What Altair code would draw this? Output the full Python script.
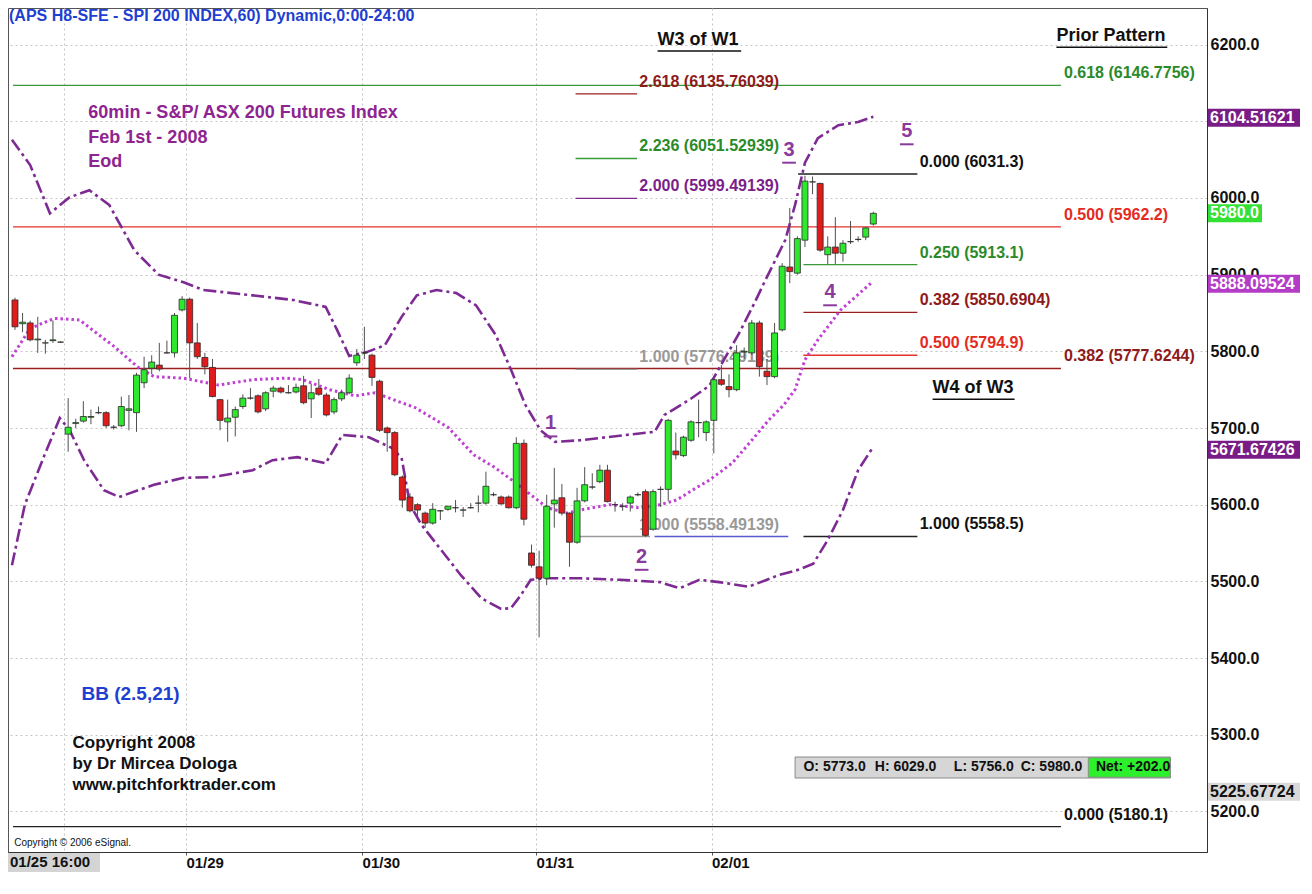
import altair as alt
import numpy as np
import pandas as pd

# ---------------- candles (hourly OHLC) ----------------
c_open = [5867, 5836, 5837, 5815, 5811, 5814, 5812,
          5692, 5706, 5709, 5714, 5720, 5720, 5701, 5703, 5723, 5720, 5759, 5778, 5782, 5798, 5798, 5854, 5868, 5811, 5792, 5779, 5737,
          5708, 5714, 5728, 5739, 5742, 5725, 5748, 5752, 5746, 5747, 5755, 5738, 5752, 5743, 5721, 5738, 5746, 5785, 5798, 5795, 5761, 5700, 5694, 5636,
          5610, 5600, 5589, 5576, 5592, 5594, 5596, 5593, 5596, 5602, 5602, 5613, 5610, 5610, 5596, 5680, 5537, 5519, 5504, 5601, 5609, 5589, 5551,
          5605, 5623, 5630, 5645, 5600, 5598, 5602, 5613, 5617, 5568, 5620, 5620, 5670, 5664, 5684, 5707, 5694, 5710,
          5763, 5754, 5750, 5799, 5798, 5837, 5774, 5767, 5828, 5910, 5902, 5945, 6021, 6019, 5926, 5936, 5928, 5943, 5946, 5949, 5966]
c_high = [5870, 5850, 5840, 5845, 5815, 5840, 5813,
          5739, 5712, 5735, 5724, 5728, 5722, 5704, 5741, 5743, 5772, 5793, 5795, 5811, 5814, 5850, 5872, 5870, 5837, 5798, 5790, 5738,
          5737, 5728, 5744, 5752, 5744, 5748, 5755, 5754, 5756, 5758, 5768, 5758, 5764, 5746, 5740, 5750, 5770, 5803, 5832, 5797, 5763, 5702, 5696, 5638,
          5615, 5602, 5591, 5602, 5593, 5598, 5606, 5597, 5602, 5612, 5643, 5616, 5612, 5612, 5688, 5685, 5548, 5540, 5613, 5648, 5627, 5590, 5622,
          5649, 5641, 5652, 5652, 5604, 5602, 5612, 5616, 5620, 5620, 5624, 5712, 5694, 5690, 5710, 5737, 5710, 5766,
          5782, 5770, 5808, 5805, 5841, 5840, 5790, 5837, 5915, 5987, 5950, 6029, 6028, 6020, 5950, 5975, 5945, 5970, 5950, 5962, 5982]
c_low = [5828, 5825, 5813, 5798, 5797, 5811, 5811,
         5669, 5700, 5707, 5705, 5718, 5700, 5698, 5701, 5697, 5695, 5752, 5770, 5774, 5797, 5792, 5852, 5765, 5790, 5770, 5740, 5697,
         5682, 5689, 5725, 5737, 5719, 5722, 5740, 5745, 5745, 5745, 5731, 5713, 5742, 5715, 5718, 5735, 5744, 5781, 5790, 5755, 5695, 5669, 5637, 5596,
         5590, 5580, 5570, 5574, 5580, 5592, 5590, 5584, 5595, 5590, 5600, 5611, 5600, 5595, 5594, 5573, 5518, 5427, 5495, 5570, 5586, 5519, 5549,
         5603, 5620, 5628, 5603, 5591, 5592, 5591, 5611, 5558, 5566, 5597, 5605, 5659, 5662, 5682, 5688, 5683, 5667,
         5755, 5740, 5748, 5790, 5795, 5767, 5756, 5765, 5826, 5889, 5900, 5936, 6005, 5930, 5914, 5914, 5917, 5940, 5943, 5945, 5964]
c_close = [5832, 5838, 5815, 5816, 5811, 5815, 5812,
           5701, 5707, 5715, 5715, 5720, 5703, 5701, 5728, 5725, 5769, 5776, 5786, 5777, 5798, 5847, 5868, 5811, 5793, 5780, 5741, 5710,
           5713, 5724, 5739, 5739, 5721, 5746, 5752, 5747, 5746, 5753, 5733, 5746, 5744, 5717, 5737, 5746, 5765, 5795, 5798, 5766, 5697, 5694, 5639, 5606,
           5592, 5593, 5576, 5594, 5592, 5598, 5596, 5593, 5596, 5602, 5624, 5613, 5601, 5596, 5680, 5581, 5521, 5504, 5598, 5606, 5589, 5551, 5605,
           5626, 5623, 5645, 5604, 5600, 5598, 5610, 5613, 5560, 5617, 5620, 5710, 5665, 5688, 5708, 5707, 5708, 5763,
           5757, 5750, 5798, 5800, 5837, 5780, 5767, 5824, 5911, 5904, 5947, 6022, 6021, 5932, 5936, 5928, 5941, 5943, 5946, 5961, 5980]

# ---------------- Bollinger bands (bar index, price) ----------------
up_i = [-0.4, 2.0, 4.6, 7.2, 9.8, 12.4, 15.7, 18.9, 22.2, 24.8, 31.3, 36.6, 40.9, 42.4, 44.0, 46.3, 48.7, 50.9, 52.9, 55.5,
        58.1, 60.7, 63.3, 65.3, 67.2, 69.2, 71.1, 74.4, 79.6, 84.2, 85.5, 88.8, 91.4, 92.7, 95.3, 97.3, 98.8, 101.4, 102.7,
        104.0, 105.7, 108.4, 111.0, 113.0]
up_p = [6076, 6043, 5980, 6001, 6010, 5991, 5932, 5900, 5890, 5880, 5873, 5867, 5858, 5828, 5794, 5799, 5808, 5845, 5873, 5880,
        5876, 5860, 5821, 5776, 5730, 5697, 5682, 5684, 5690, 5695, 5717, 5737, 5755, 5778, 5823, 5862, 5893, 5945, 5991,
        6046, 6078, 6095, 6099, 6106]
lo_i = [-0.4, 1.3, 3.9, 5.9, 7.2, 9.1, 11.7, 13.7, 18.3, 22.2, 26.1, 31.3, 33.9, 37.2, 40.9, 43.1, 46.6, 49.6, 50.9, 52.0,
        53.5, 56.1, 58.7, 61.4, 64.0, 65.3, 66.6, 67.9, 69.8, 74.4, 79.6, 84.9, 87.5, 90.1, 92.7, 96.6, 100.5, 103.1, 105.1,
        107.0, 109.0, 111.0, 112.9]
lo_p = [5521, 5600, 5665, 5713, 5697, 5658, 5619, 5610, 5626, 5635, 5636, 5645, 5658, 5662, 5654, 5691, 5688, 5674, 5661, 5600,
        5574, 5541, 5508, 5478, 5464, 5465, 5482, 5502, 5504, 5504, 5502, 5499, 5491, 5502, 5499, 5493, 5508, 5515, 5523,
        5554, 5593, 5645, 5674]
mid_i = [-0.4, 2.0, 5.2, 8.5, 11.1, 13.1, 16.1, 18.3, 22.2, 26.8, 31.3, 35.6, 37.9, 41.4, 44.8, 47.4, 50.9, 52.6, 57.0, 60.4,
         63.1, 65.7, 67.9, 70.1, 72.7, 74.4, 78.3, 82.2, 84.9, 87.1, 89.2, 91.4, 94.4, 97.0, 99.2, 101.2, 102.7, 104.0, 105.7,
         108.7, 112.7]
mid_p = [5793, 5830, 5843, 5841, 5821, 5806, 5780, 5767, 5765, 5756, 5763, 5765, 5763, 5750, 5742, 5746, 5733, 5727, 5701, 5665,
         5649, 5630, 5613, 5596, 5589, 5593, 5600, 5596, 5600, 5606, 5619, 5632, 5654, 5684, 5710, 5730, 5750, 5789, 5815,
         5854, 5889]

# ---------------- Fibonacci levels ----------------
X_MIN, X_MAX = -0.26, 156.27
Y_MIN, Y_MAX = 5147.0, 6247.8
GREEN, RED, DRED, PURP, BLACK, GRAY, BLUE = "#3a9a3a", "#e5322a", "#9a1e1e", "#7d2a8e", "#222222", "#9a9a9a", "#5a5ad0"

lvl_price = [6146.7756, 6135.76039, 6051.52939, 5999.49139, 6031.3, 5962.2, 5913.1, 5850.6904, 5794.9,
             5777.6244, 5776.49139, 5558.49139, 5558.49139, 5558.5, 5180.1]
lvl_start = [X_MIN, 73.8, 73.8, 73.8, 103.1, X_MIN, 103.8, 103.8, 103.8, X_MIN, 73.8, 73.8, 84.2, 103.8, X_MIN]
lvl_end = [137.7, 81.9, 81.9, 81.9, 118.8, 137.7, 118.8, 118.8, 118.8, 137.7, 81.9, 83.6, 101.8, 118.8, 137.7]
lvl_color = [GREEN, DRED, GREEN, PURP, BLACK, RED, GREEN, DRED, RED, DRED, GRAY, GRAY, BLUE, BLACK, BLACK]

lab_text = ["0.618 (6146.7756)", "2.618 (6135.76039)", "2.236 (6051.52939)", "2.000 (5999.49139)",
            "0.000 (6031.3)", "0.500 (5962.2)", "0.250 (5913.1)", "0.382 (5850.6904)", "0.500 (5794.9)",
            "0.382 (5777.6244)", "1.000 (5776.49139)", "1.000 (5558.49139)", "1.000 (5558.5)", "0.000 (5180.1)"]
lab_i = [138.1, 82.2, 82.2, 82.2, 119.1, 138.1, 119.1, 119.1, 119.1, 138.1, 82.2, 82.2, 119.1, 138.1]
lab_price = [6146.7756, 6135.76039, 6051.52939, 5999.49139, 6031.3, 5962.2, 5913.1, 5850.6904, 5794.9,
             5777.6244, 5776.49139, 5558.49139, 5558.5, 5180.1]
lab_color = ["#2a8a2a", "#8e1a1a", "#2a8a2a", "#7a1f8a", "#111111", "#e52a22", "#2a8a2a", "#8e1a1a", "#e52a22",
             "#8e1a1a", "#999999", "#999999", "#111111", "#111111"]

# ---------------- annotations ----------------
wave_text = ["1", "2", "3", "4", "5"]
wave_i = [70.5, 82.5, 101.9, 107.3, 117.4]
wave_p = [5706, 5532, 6063, 5877, 6087]

hdr_text = ["W3 of W1", "Prior Pattern", "W4 of W3"]
hdr_i = [84.6, 137.1, 120.8]
hdr_p = [6206, 6211, 5752]
hdr_w = [11.0, 14.6, 10.8]

info_text = ["60min - S&P/ ASX 200 Futures Index", "Feb 1st - 2008", "Eod"]
info_p = [6111, 6078, 6047]
copy_text = ["Copyright 2008", "by Dr Mircea Dologa", "www.pitchforktrader.com"]
copy_p = [5289, 5262, 5234]

ohlc_text = ["O: 5773.0", "H: 6029.0", "L: 5756.0", "C: 5980.0", "Net: +202.0"]
ohlc_i = [103.8, 113.2, 123.6, 132.4, 142.3]

tag_text = ["6104.51621", "5980.0", "5888.09524", "5671.67426", "5225.67724"]
tag_price = [6104.51621, 5980.0, 5888.09524, 5671.67426, 5225.67724]
tag_fill = ["#7a1c86", "#33e033", "#b43cc6", "#7a1c86", "#d9d9d9"]
tag_tcol = ["white", "white", "white", "white", "#111111"]
tag_wide = [True, False, True, True, True]

tick_vals = [6.5, 22.5, 45.7, 68.6, 91.7]
tick_labels = ["", "01/29", "01/30", "01/31", "02/01"]
price_ticks = [5200, 5300, 5400, 5500, 5600, 5700, 5800, 5900, 6000, 6100, 6200]
hidden_price_ticks = [6100]   # label covered by the 6104.51621 tag in the original

W, H = 1199, 844
PPP = (Y_MAX - Y_MIN) / H   # price units per pixel

# ---------------- frames ----------------
candles = pd.DataFrame({"i": range(len(c_open)), "o": c_open, "h": c_high, "l": c_low, "c": c_close})
candles["dir"] = np.where(candles["c"] >= candles["o"], "up", "down")

levels = pd.DataFrame({"p": lvl_price, "x0": lvl_start, "x1": lvl_end, "col": lvl_color})
labels = pd.DataFrame({"t": lab_text, "i": lab_i, "p": lab_price, "col": lab_color})
upper = pd.DataFrame({"i": up_i, "p": up_p})
lower = pd.DataFrame({"i": lo_i, "p": lo_p})
mid = pd.DataFrame({"i": mid_i, "p": mid_p})
waves = pd.DataFrame({"t": wave_text, "i": wave_i, "p": wave_p})
waves["x0"] = waves["i"] - 0.9
waves["x1"] = waves["i"] + 0.9
waves["pu"] = waves["p"] - 13 * PPP
hdrs = pd.DataFrame({"t": hdr_text, "i": hdr_i, "p": hdr_p, "w": hdr_w})
hdrs["x1"] = hdrs["i"] + hdrs["w"]
hdrs["pu"] = hdrs["p"] - 11 * PPP
info = pd.DataFrame({"t": info_text, "p": info_p, "i": 9.66})
copyr = pd.DataFrame({"t": copy_text, "p": copy_p, "i": 7.57})
tags = pd.DataFrame({"t": tag_text, "p": tag_price, "fill": tag_fill, "tc": tag_tcol, "wide": tag_wide})
tags["yt"] = tags["p"] + 9 * PPP
tags["yb"] = tags["p"] - 9 * PPP
ohlc = pd.DataFrame({"t": ohlc_text, "i": ohlc_i, "p": 5257.5})
ohlc_box = pd.DataFrame({"x0": [102.7, 141.3], "x1": [152.1, 152.1], "y0": [5243.5, 5244.5], "y1": [5270.9, 5269.9],
                         "fill": ["#d6d6d6", "#2cf02c"]})
one = pd.DataFrame({"k": [0]})

xs = alt.Scale(domain=[X_MIN, X_MAX], nice=False, zero=False)
ys = alt.Scale(domain=[Y_MIN, Y_MAX], nice=False, zero=False)

expr = "''"
for v, lab in reversed(list(zip(tick_vals, tick_labels))):
    expr = f"abs(datum.value - {v}) < 0.5 ? '{lab}' : ({expr})"

y_expr = "format(datum.value, '.1f')"
for v in hidden_price_ticks:
    y_expr = f"datum.value == {v} ? '' : ({y_expr})"

x_axis = alt.Axis(orient="bottom", values=tick_vals, labelExpr=expr, labelAlign="left", labelBaseline="top",
                  labelPadding=0, labelFontSize=15, labelFontWeight="bold", labelColor="#111", labelOverlap=False,
                  tickSize=3, tickColor="#555", domainColor="#333", grid=True, gridDash=[2, 3], gridColor="#c4c4c4",
                  title=None, labelFlush=False)
y_axis = alt.Axis(orient="right", values=price_ticks, labelExpr=y_expr, labelFontSize=16, labelFontWeight="bold",
                  labelColor="#111", labelPadding=3, tickSize=0, domainColor="#333", grid=True, gridDash=[2, 3],
                  gridColor="#c4c4c4", title=None, labelOverlap=False, labelFlush=False)


def X(f):
    return alt.X(f, scale=xs, axis=x_axis)


def Y(f):
    return alt.Y(f, scale=ys, axis=y_axis)


lvl_rules = alt.Chart(levels).mark_rule(strokeWidth=1.3).encode(
    x=X("x0:Q"), x2="x1:Q", y=Y("p:Q"), color=alt.Color("col:N", scale=None))

lvl_text = alt.Chart(labels).mark_text(align="left", baseline="middle", dy=-12, fontSize=16, fontWeight="bold").encode(
    x=X("i:Q"), y=Y("p:Q"), text="t:N", color=alt.Color("col:N", scale=None))

band_style = dict(color="#7e2a93", strokeWidth=2.6, strokeDash=[13, 4, 3, 4], clip=True)
up_line = alt.Chart(upper).mark_line(**band_style).encode(x=X("i:Q"), y=Y("p:Q"))
lo_line = alt.Chart(lower).mark_line(**band_style).encode(x=X("i:Q"), y=Y("p:Q"))
mid_line = alt.Chart(mid).mark_line(color="#c040d4", strokeWidth=3, strokeDash=[2.5, 3], clip=True).encode(
    x=X("i:Q"), y=Y("p:Q"))

wicks = alt.Chart(candles).mark_rule(color="#505050", strokeWidth=1).encode(x=X("i:Q"), y=Y("l:Q"), y2="h:Q")
bodies = alt.Chart(candles).mark_bar(size=6, stroke="#2a2a2a", strokeWidth=0.8, orient="vertical").encode(
    x=X("i:Q"), y=Y("o:Q"), y2="c:Q",
    color=alt.Color("dir:N", scale=alt.Scale(domain=["up", "down"], range=["#2ee82e", "#e01b1b"]), legend=None))

wave_t = alt.Chart(waves).mark_text(fontSize=20, fontWeight="bold", color="#8a3a9c", align="center",
                                    baseline="middle").encode(x=X("i:Q"), y=Y("p:Q"), text="t:N")
wave_u = alt.Chart(waves).mark_rule(color="#8a3a9c", strokeWidth=2).encode(x=X("x0:Q"), x2="x1:Q", y=Y("pu:Q"))

hdr_t = alt.Chart(hdrs).mark_text(fontSize=18, fontWeight="bold", color="#111", align="left",
                                  baseline="middle").encode(x=X("i:Q"), y=Y("p:Q"), text="t:N")
hdr_u = alt.Chart(hdrs).mark_rule(color="#111", strokeWidth=1.5).encode(x=X("i:Q"), x2="x1:Q", y=Y("pu:Q"))

info_t = alt.Chart(info).mark_text(fontSize=18, fontWeight="bold", color="#8e2491", align="left",
                                   baseline="middle").encode(x=X("i:Q"), y=Y("p:Q"), text="t:N")
copy_t = alt.Chart(copyr).mark_text(fontSize=17, fontWeight="bold", color="#111", align="left",
                                    baseline="middle").encode(x=X("i:Q"), y=Y("p:Q"), text="t:N")
bb_t = alt.Chart(pd.DataFrame({"t": ["BB (2.5,21)"], "i": [8.75], "p": [5353]})).mark_text(
    fontSize=19, fontWeight="bold", color="#1f3fd0", align="left", baseline="middle").encode(
    x=X("i:Q"), y=Y("p:Q"), text="t:N")
esig_t = alt.Chart(pd.DataFrame({"t": ["Copyright © 2006 eSignal."], "i": [-0.1], "p": [5159]})).mark_text(
    fontSize=10, color="#111", align="left", baseline="middle").encode(x=X("i:Q"), y=Y("p:Q"), text="t:N")

box_r = alt.Chart(ohlc_box).mark_rect(stroke="#8a8a8a", strokeWidth=1).encode(
    x=X("x0:Q"), x2="x1:Q", y=Y("y0:Q"), y2="y1:Q", fill=alt.Fill("fill:N", scale=None))
box_t = alt.Chart(ohlc).mark_text(fontSize=14, fontWeight="bold", color="#111", align="left",
                                  baseline="middle").encode(x=X("i:Q"), y=Y("p:Q"), text="t:N")

tag_wide_r = alt.Chart(tags).transform_filter("datum.wide").mark_rect().encode(
    x=alt.value(W + 1), x2=alt.value(W + 93), y=Y("yt:Q"), y2="yb:Q", fill=alt.Fill("fill:N", scale=None))
tag_narrow_r = alt.Chart(tags).transform_filter("!datum.wide").mark_rect().encode(
    x=alt.value(W + 1), x2=alt.value(W + 55), y=Y("yt:Q"), y2="yb:Q", fill=alt.Fill("fill:N", scale=None))
tag_t = alt.Chart(tags).mark_text(fontSize=16, fontWeight="bold", align="left", baseline="middle").encode(
    x=alt.value(W + 3), y=Y("p:Q"), text="t:N", color=alt.Color("tc:N", scale=None))

title_t = alt.Chart(one).mark_text(text="(APS H8-SFE - SPI 200 INDEX,60) Dynamic,0:00-24:00", fontSize=16,
                                   fontWeight="bold", color="#1f3fd0", align="left", baseline="middle").encode(
    x=alt.value(1), y=alt.value(8))
xbox = alt.Chart(one).mark_rect(color="#d4d4d4").encode(
    x=alt.value(0), x2=alt.value(92), y=alt.value(845), y2=alt.value(864))
xbox_t = alt.Chart(one).mark_text(text="01/25 16:00", fontSize=15, fontWeight="bold", color="#111",
                                  align="left", baseline="middle").encode(x=alt.value(2), y=alt.value(854))

chart = alt.layer(
    lvl_rules, lvl_text, up_line, lo_line, mid_line, wicks, bodies, wave_t, wave_u, hdr_t, hdr_u,
    info_t, copy_t, bb_t, esig_t, box_r, box_t, tag_wide_r, tag_narrow_r, tag_t, title_t, xbox, xbox_t
).properties(
    width=W, height=H,
    autosize=alt.AutoSizeParams(type="none"),
    padding={"left": 0, "top": 0, "right": 97, "bottom": 30},
    background="white",
).configure(font="Liberation Sans").configure_view(stroke="#555555", strokeWidth=1)

chart.save("out.html", embed_options={"renderer": "svg", "actions": False})
